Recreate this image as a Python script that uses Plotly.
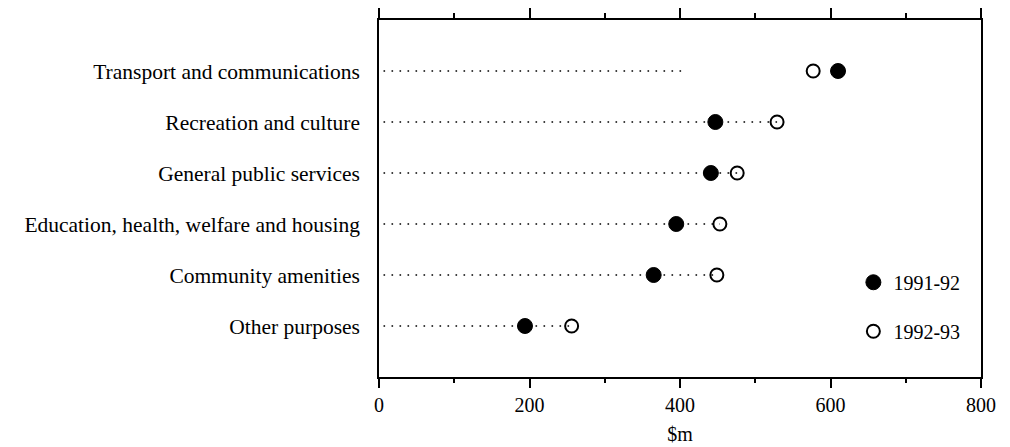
import plotly.graph_objects as go

categories = [
    "Other purposes",
    "Community amenities",
    "Education, health, welfare and housing",
    "General public services",
    "Recreation and culture",
    "Transport and communications",
]
values_1991_92 = [194, 365, 395, 441, 447, 610]
values_1992_93 = [256, 449, 453, 476, 529, 577]
guide_end = [256, 449, 453, 476, 529, 407]
x_ticks = [0, 200, 400, 600, 800]

FONT = "Liberation Serif"

fig = go.Figure()

# dotted guide lines
for cat, end in zip(categories, guide_end):
    fig.add_trace(go.Scatter(
        x=[6, end], y=[cat, cat], mode="lines", xaxis="x2",
        line=dict(color="black", width=1.6, dash="1.6px,6.4px"),
        showlegend=False, hoverinfo="skip",
    ))

fig.add_trace(go.Scatter(
    x=values_1991_92, y=categories, mode="markers", name="1991-92",
    marker=dict(symbol="circle", size=15, color="black",
                line=dict(color="black", width=1)),
    legendgroup="a",
))
fig.add_trace(go.Scatter(
    x=values_1992_93, y=categories, mode="markers", name="1992-93",
    marker=dict(symbol="circle", size=13, color="white",
                line=dict(color="black", width=2)),
    legendgroup="b",
))

# page body has an 8px margin: size/margins compensate for it
fig.update_layout(
    width=1002, height=439,
    margin=dict(l=371, r=29, t=12, b=70),
    paper_bgcolor="white", plot_bgcolor="white",
    font=dict(family=FONT, size=20, color="black"),
    xaxis=dict(
        range=[0, 800], tickvals=x_ticks, ticks="outside", ticklen=9,
        tickwidth=1.5, tickcolor="black", automargin=False,
        minor=dict(dtick=100, ticks="outside", ticklen=4, tickwidth=1.5, tickcolor="black"),
        showline=True, linecolor="black", linewidth=1.5, showgrid=False,
        zeroline=False,
        title=dict(text="$m", font=dict(family=FONT, size=20), standoff=12),
        tickfont=dict(family=FONT, size=20),
    ),
    xaxis2=dict(
        range=[0, 800], matches="x", overlaying="x", side="top",
        tickvals=x_ticks, showticklabels=False, ticks="outside", ticklen=10,
        tickwidth=1.5, tickcolor="black", automargin=False,
        minor=dict(dtick=100, ticks="outside", ticklen=5, tickwidth=1.5, tickcolor="black"),
        showline=True, linecolor="black", linewidth=1.5, showgrid=False,
        zeroline=False,
    ),
    yaxis=dict(
        type="category", categoryorder="array", categoryarray=categories,
        range=[-1, 6], showline=True, mirror=True, linecolor="black",
        linewidth=1.5, ticks="", showgrid=False, zeroline=False,
        ticklabelstandoff=13, automargin=False,
        tickfont=dict(family=FONT, size=21.5),
    ),
    legend=dict(
        x=0.788, y=0.32, xanchor="left", yanchor="top",
        font=dict(family=FONT, size=20), bgcolor="rgba(0,0,0,0)",
        tracegroupgap=20, itemwidth=30,
    ),
    showlegend=True,
)

fig.write_html("out.html")
